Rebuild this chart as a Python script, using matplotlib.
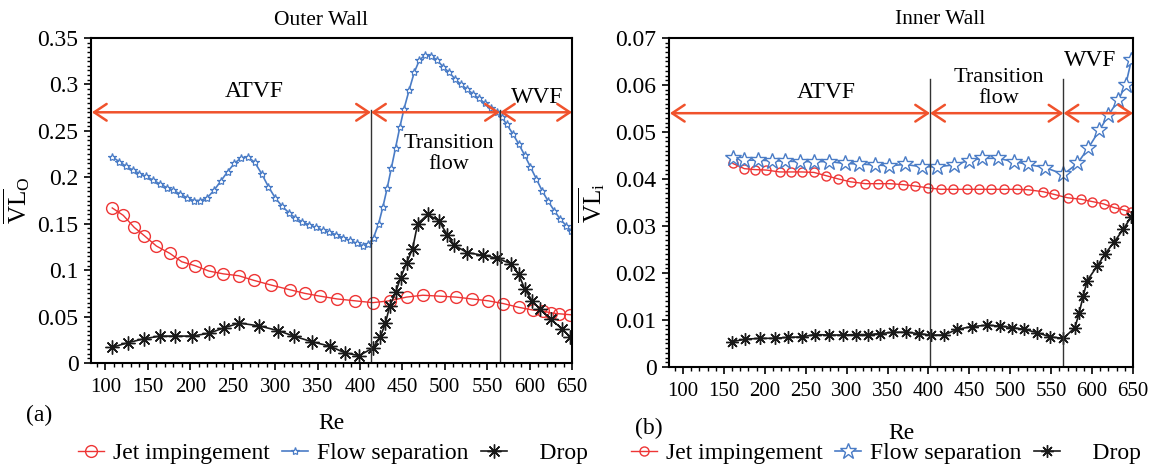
import matplotlib
matplotlib.use("Agg")
import matplotlib.pyplot as plt
from matplotlib.ticker import MultipleLocator, AutoMinorLocator, FuncFormatter

plt.rcParams["font.family"] = ["Liberation Serif", "DejaVu Serif"]
plt.rcParams["mathtext.fontset"] = "custom"
plt.rcParams["mathtext.rm"] = "Liberation Serif"
plt.rcParams["mathtext.it"] = "Liberation Serif:italic"

RED = "#EE3535"
BLUE = "#4A7CC6"
BLACK = "#1A1A1A"
ARROW = "#F0522C"

# ---- outer wall (a) ----
re_jet_o = [108, 121, 134, 146, 160, 176, 190, 205, 222, 239, 257, 275, 295, 317,
            335, 353, 373, 394, 415, 435, 455, 474, 494, 513, 532, 551, 569, 587,
            604, 616, 625, 635, 648]
jet_o = [0.167, 0.159, 0.146, 0.137, 0.126, 0.118, 0.109, 0.105, 0.099, 0.096,
         0.094, 0.089, 0.084, 0.079, 0.075, 0.072, 0.069, 0.067, 0.065, 0.067,
         0.071, 0.073, 0.072, 0.071, 0.069, 0.067, 0.064, 0.060, 0.057, 0.056,
         0.054, 0.053, 0.052]

re_sep_o = [108, 116, 124, 132, 140, 148, 156, 164, 172, 180, 188, 196, 204, 212,
            220, 228, 236, 244, 252, 260, 268, 276, 284, 292, 300, 308, 316, 324,
            332, 340, 348, 356, 364, 372, 380, 388, 396, 404, 410, 416, 422, 427,
            432, 437, 442, 447, 452, 458, 464, 470, 477, 484, 491, 498, 505, 512,
            519, 526, 533, 540, 547, 554, 561, 567, 573, 580, 587, 594, 601, 608,
            615, 622, 629, 636, 643, 649]
sep_o = [0.222, 0.217, 0.212, 0.208, 0.204, 0.201, 0.197, 0.193, 0.189, 0.186,
         0.182, 0.178, 0.175, 0.175, 0.178, 0.186, 0.196, 0.206, 0.215, 0.221,
         0.222, 0.216, 0.204, 0.190, 0.178, 0.169, 0.162, 0.156, 0.152, 0.149,
         0.146, 0.143, 0.141, 0.138, 0.135, 0.132, 0.129, 0.126, 0.128, 0.135,
         0.150, 0.168, 0.188, 0.210, 0.232, 0.254, 0.274, 0.294, 0.313, 0.326,
         0.332, 0.331, 0.326, 0.319, 0.313, 0.306, 0.300, 0.295, 0.290, 0.285,
         0.280, 0.275, 0.270, 0.265, 0.257, 0.247, 0.236, 0.224, 0.211, 0.198,
         0.185, 0.174, 0.164, 0.155, 0.148, 0.142]

re_drop_o = [108, 127, 145, 164, 182, 202, 222, 240, 258, 281, 303, 322, 343, 365,
             382, 399, 415, 424, 430, 435, 442, 448, 455, 462, 468, 480, 493, 503,
             511, 526, 545, 561, 578, 587, 594, 603, 612, 625, 638, 648]
drop_o = [0.017, 0.022, 0.026, 0.029, 0.029, 0.029, 0.032, 0.038, 0.043, 0.040,
          0.035, 0.029, 0.023, 0.018, 0.011, 0.008, 0.016, 0.028, 0.043, 0.061,
          0.076, 0.092, 0.108, 0.123, 0.150, 0.160, 0.153, 0.138, 0.127, 0.119,
          0.116, 0.113, 0.107, 0.096, 0.080, 0.067, 0.058, 0.047, 0.037, 0.028]

# ---- inner wall (b) ----
re_jet_i = [161, 175, 188, 202, 218, 232, 245, 260, 275, 290, 305, 323, 338, 353,
            369, 384, 400, 415, 430, 447, 462, 476, 492, 508, 522, 540, 554, 570,
            586, 600, 614, 627, 639, 648]
jet_i = [0.0433, 0.0422, 0.0420, 0.0419, 0.0415, 0.0415, 0.0415, 0.0414, 0.0407,
         0.0400, 0.0394, 0.0390, 0.0390, 0.0390, 0.0388, 0.0385, 0.0381, 0.0378,
         0.0378, 0.0378, 0.0378, 0.0378, 0.0378, 0.0378, 0.0377, 0.0373, 0.0367,
         0.0360, 0.0357, 0.0352, 0.0347, 0.0339, 0.0334, 0.0329]

re_sep_i = [161, 175, 192, 209, 225, 243, 260, 279, 298, 315, 335, 352, 371, 392,
            411, 431, 449, 466, 485, 504, 522, 543, 565, 582, 595, 609, 620, 632,
            641, 648]
sep_i = [0.0444, 0.0440, 0.0440, 0.0439, 0.0438, 0.0437, 0.0437, 0.0437, 0.0433,
         0.0432, 0.0430, 0.0428, 0.0431, 0.0426, 0.0426, 0.0430, 0.0439, 0.0444,
         0.0444, 0.0437, 0.0431, 0.0424, 0.0410, 0.0433, 0.0465, 0.0504, 0.0536,
         0.0568, 0.0600, 0.0653]

re_drop_i = [160, 176, 194, 212, 228, 245, 261, 278, 295, 311, 326, 341, 357, 373,
             388, 403, 419, 435, 453, 472, 487, 502, 517, 533, 549, 565, 579, 584,
             589, 594, 606, 616, 627, 638, 648]
drop_i = [0.0054, 0.0059, 0.0061, 0.0061, 0.0063, 0.0064, 0.0069, 0.0068, 0.0068,
          0.0069, 0.0069, 0.0071, 0.0074, 0.0074, 0.0071, 0.0068, 0.0068, 0.0080,
          0.0086, 0.0089, 0.0087, 0.0084, 0.0080, 0.0073, 0.0064, 0.0061, 0.0084,
          0.0114, 0.0150, 0.0184, 0.0214, 0.0241, 0.0266, 0.0293, 0.0320]

# flow regime boundaries (Re) and arrow heights
bounds_o = [413, 565]
bounds_i = [402, 565]
arrow_y_o, line_top_o = 0.27, 0.273
arrow_y_i, line_top_i = 0.054, 0.0612

XMIN, XMAX = 83, 650


def style_axis(ax, ymax, ystep):
    ax.set_xlim(XMIN, XMAX)
    ax.set_ylim(0, ymax)
    ax.xaxis.set_major_locator(MultipleLocator(50))
    ax.xaxis.set_minor_locator(MultipleLocator(10))
    ax.yaxis.set_major_locator(MultipleLocator(ystep))
    ax.yaxis.set_minor_locator(AutoMinorLocator(10))
    ax.yaxis.set_major_formatter(FuncFormatter(lambda v, p: f"{v:g}"))
    ax.tick_params(axis="x", which="major", direction="out", length=5, width=1.2,
                   labelsize=15, pad=6)
    ax.tick_params(axis="y", which="major", direction="out", length=5, width=1.2,
                   labelsize=17, pad=4)
    ax.tick_params(which="minor", direction="out", length=3, width=1)
    ax.tick_params(top=False, right=False, which="both")
    for sp in ax.spines.values():
        sp.set_linewidth(1.5)


def regime_arrows(ax, bounds, y, top):
    edges = [XMIN + 1, bounds[0], bounds[1], XMAX]
    for a, b in zip(edges[:-1], edges[1:]):
        ax.annotate("", xy=(a, y), xytext=(b, y),
                    arrowprops=dict(arrowstyle="<->,head_length=0.6,head_width=0.4",
                                    color=ARROW, lw=1.8, shrinkA=0, shrinkB=0,
                                    mutation_scale=15))
    for b in bounds:
        ax.plot([b, b], [0, top], color="#333333", lw=1)


fig = plt.figure(figsize=(11.67, 4.72), dpi=100)
ax1 = fig.add_axes([0.078, 0.2309, 0.4122, 0.6886])
ax2 = fig.add_axes([0.5733, 0.2225, 0.3976, 0.6970])

# outer wall
ax1.plot(re_jet_o, jet_o, color=RED, lw=1, marker="o", ms=8.5, mfc="none",
         mec=RED, mew=1, label="Jet impingement")
ax1.plot(re_sep_o, sep_o, color=BLUE, lw=1.2, marker="*", ms=6, mfc="white",
         mec=BLUE, mew=0.9, label="Flow separation")
ax1.plot(re_drop_o, drop_o, color=BLACK, lw=1.2, marker=(8, 2, 0), ms=10,
         mec=BLACK, mew=1, label="    Drop")
regime_arrows(ax1, bounds_o, arrow_y_o, line_top_o)
ax1.text(275, 0.292, "ATVF", ha="center", va="center", fontsize=17)
ax1.text(505, 0.225, "Transition\nflow", ha="center", va="center", fontsize=16,
         linespacing=1.15)
ax1.text(609, 0.286, "WVF", ha="center", va="center", fontsize=17)
style_axis(ax1, 0.35, 0.05)
ax1.set_ylabel(r"$\overline{\mathrm{VL}}_{\mathrm{O}}$", fontsize=18, labelpad=4)
ax1.set_xlabel("Re", fontsize=17)
ax1.xaxis.set_label_coords(0.5, -0.155)
ax1.text(0.478, 1.055, "Outer Wall", transform=ax1.transAxes, ha="center",
         va="center", fontsize=15.5)

# inner wall
ax2.plot(re_jet_i, jet_i, color=RED, lw=1, marker="o", ms=6.5, mfc="none",
         mec=RED, mew=1, label="Jet impingement")
ax2.plot(re_sep_i, sep_i, color=BLUE, lw=1.2, marker="*", ms=12, mfc="white",
         mec=BLUE, mew=1, label="Flow separation")
ax2.plot(re_drop_i, drop_i, color=BLACK, lw=1.2, marker=(8, 2, 0), ms=9,
         mec=BLACK, mew=1, label="    Drop")
regime_arrows(ax2, bounds_i, arrow_y_i, line_top_i)
ax2.text(275, 0.0585, "ATVF", ha="center", va="center", fontsize=17)
ax2.text(486, 0.0594, "Transition\nflow", ha="center", va="center", fontsize=16,
         linespacing=1.15)
ax2.text(597, 0.0652, "WVF", ha="center", va="center", fontsize=17)
style_axis(ax2, 0.07, 0.01)
ax2.set_ylabel(r"$\overline{\mathrm{VL}}_{\mathrm{i}}$", fontsize=18, labelpad=6)
ax2.set_xlabel("Re", fontsize=17)
ax2.xaxis.set_label_coords(0.5, -0.17)
ax2.text(0.585, 1.055, "Inner Wall", transform=ax2.transAxes, ha="center",
         va="center", fontsize=15.5)

fig.text(39 / 1167, 1 - 415 / 472, "(a)", ha="center", va="center", fontsize=17)
fig.text(649 / 1167, 1 - 428 / 472, "(b)", ha="center", va="center", fontsize=17)

for ax, xc in [(ax1, 333 / 1167), (ax2, 886 / 1167)]:
    fig.legend(*ax.get_legend_handles_labels(), loc="center",
               bbox_to_anchor=(xc, 1 - 453 / 472), ncol=3, frameon=False,
               fontsize=17, handlelength=1.1, handletextpad=0.4,
               columnspacing=0.5, borderpad=0, borderaxespad=0)

fig.savefig("out.png", dpi=100)
